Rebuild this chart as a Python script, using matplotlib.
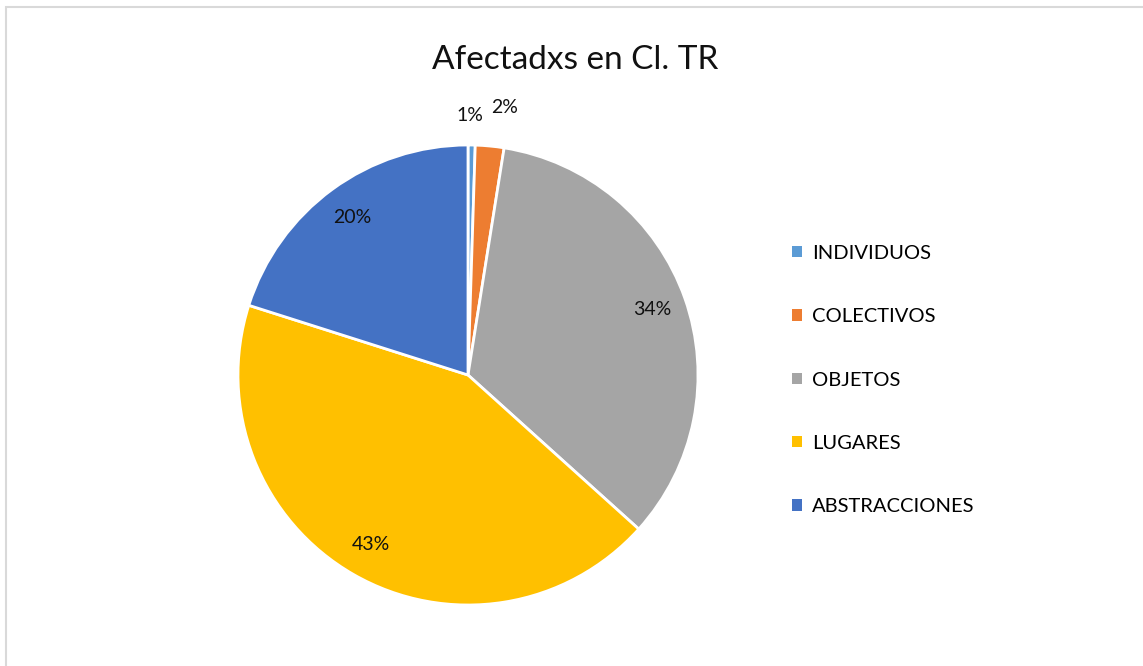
import numpy as np
import matplotlib.pyplot as plt
from matplotlib.patches import Patch, Rectangle

categories = ['INDIVIDUOS', 'COLECTIVOS', 'OBJETOS', 'LUGARES', 'ABSTRACCIONES']
values = [1, 4, 68, 86, 40]
colors = ['#5B9BD5', '#ED7D31', '#A5A5A5', '#FFC000', '#4472C4']

plt.rcParams['font.family'] = ['Lato', 'DejaVu Sans']

fig = plt.figure(figsize=(11.43, 6.66), dpi=100)

# light grey chart-area border (top and left visible)
fig.patches.append(Rectangle((6 / 1143, -0.1), 1.2, (666 - 7) / 666 + 0.1,
                             transform=fig.transFigure, fill=False,
                             edgecolor='#D9D9D9', linewidth=1.5))

cx, cy, r = 468, 666 - 375, 230
ax = fig.add_axes([(cx - r) / 1143, (cy - r) / 666, 2 * r / 1143, 2 * r / 666])

wedges, texts, autotexts = ax.pie(values, colors=colors, startangle=90, counterclock=False,
                                  autopct='%.0f%%', pctdistance=0.85,
                                  wedgeprops=dict(edgecolor='white', linewidth=2),
                                  textprops=dict(fontsize=14, color='#111111'))
ax.set_xlim(-1, 1)
ax.set_ylim(-1, 1)

# small slices: labels outside the pie
for w, t, rad, dx in [(wedges[0], autotexts[0], 1.13, -0.01), (wedges[1], autotexts[1], 1.17, 0.05)]:
    ang = np.deg2rad((w.theta1 + w.theta2) / 2)
    t.set_position((rad * np.cos(ang) + dx, rad * np.sin(ang)))

fig.text(575 / 1143, 1 - 60 / 666, 'Afectadxs en Cl. TR', ha='center', va='center',
         fontsize=24, color='#111111')

handles = [Patch(facecolor=c, edgecolor='none') for c in colors]
fig.legend(handles, categories, loc='center left', bbox_to_anchor=(792 / 1143, 1 - 380 / 666),
           frameon=False, fontsize=14.5, handlelength=0.5, handleheight=0.5,
           handletextpad=0.5, labelspacing=2.3, borderpad=0, borderaxespad=0)

fig.savefig('out.png', dpi=100)
